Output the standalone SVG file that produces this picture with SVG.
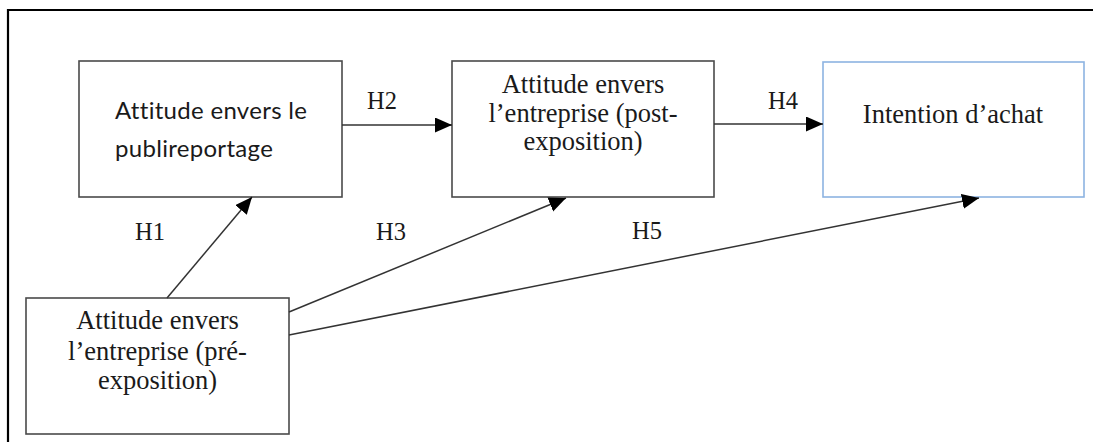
<svg xmlns="http://www.w3.org/2000/svg" width="1093" height="442" viewBox="0 0 1093 442">
<defs>
<marker id="ah" markerUnits="userSpaceOnUse" markerWidth="18" markerHeight="16" refX="17" refY="7.5" orient="auto">
<path d="M0,0 L17,7.5 L0,15 z" fill="#000"/>
</marker>
<style>
.box{fill:#fff;stroke:#4a4a4a;stroke-width:1.6}
.blue{fill:#fff;stroke:#8db3e2;stroke-width:1.6}
.serif{font-family:"Liberation Serif","Times New Roman",serif;font-size:26.5px;fill:#1a1a1a}
.lab{font-family:"Liberation Serif","Times New Roman",serif;font-size:24.5px;fill:#1a1a1a}
.sans{font-family:Lato,"Liberation Sans",sans-serif;font-size:24px;letter-spacing:0.3px;fill:#1a1a1a}
.mid{text-anchor:middle}
.conn{stroke:#333;stroke-width:1.5;fill:none;marker-end:url(#ah)}
</style>
</defs>
<rect width="1093" height="442" fill="#fff"/>
<g id="frame">
<path d="M8,442 V10 H1093" fill="none" stroke="#000" stroke-width="2.2"/>
</g>
<g id="node-pub">
<rect class="box" x="79" y="61" width="263" height="136"/>
<text class="sans" x="115" y="119">Attitude envers le</text>
<text class="sans" x="115" y="157">publireportage</text>
</g>
<g id="node-post">
<rect class="box" x="452" y="61" width="262" height="136"/>
<text class="serif mid" x="583" y="93">Attitude envers</text>
<text class="serif mid" x="583" y="122">l’entreprise (post-</text>
<text class="serif mid" x="583" y="150">exposition)</text>
</g>
<g id="node-intention">
<rect class="blue" x="823" y="62" width="261" height="135"/>
<text class="serif mid" x="953" y="123">Intention d’achat</text>
</g>
<g id="node-pre">
<rect class="box" x="26" y="298" width="263" height="136"/>
<text class="serif mid" x="157.5" y="329">Attitude envers</text>
<text class="serif mid" x="157.5" y="360">l’entreprise (pré-</text>
<text class="serif mid" x="157.5" y="389">exposition)</text>
</g>
<g id="connectors">
<line class="conn" x1="342" y1="125" x2="452" y2="125"/>
<line class="conn" x1="714" y1="124" x2="823" y2="124"/>
<line class="conn" x1="167" y1="298" x2="252" y2="197"/>
<line class="conn" x1="289" y1="312" x2="566" y2="198"/>
<line class="conn" x1="289" y1="335" x2="979" y2="198"/>
</g>
<g id="labels">
<text class="lab" x="367" y="109">H2</text>
<text class="lab" x="768" y="109">H4</text>
<text class="lab" x="135" y="240">H1</text>
<text class="lab" x="376" y="240">H3</text>
<text class="lab" x="632" y="239">H5</text>
</g>
</svg>
